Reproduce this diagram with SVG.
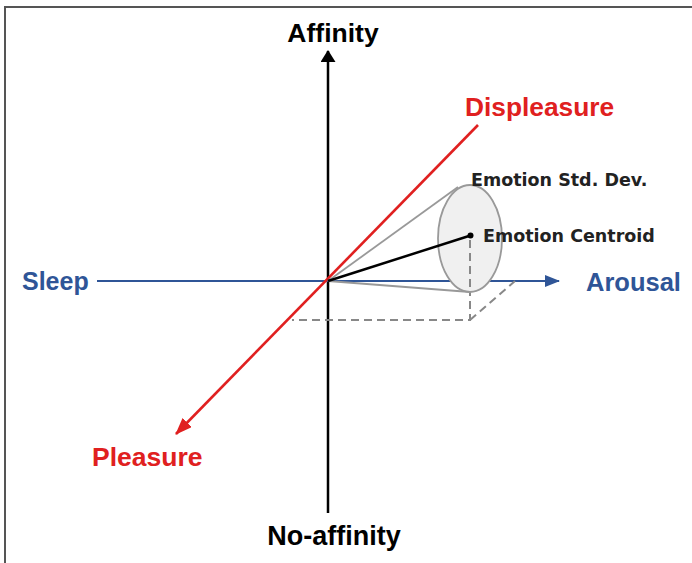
<svg xmlns="http://www.w3.org/2000/svg" width="692" height="563" viewBox="0 0 692 563">
<defs>
<style>
text{font-family:"Liberation Sans",Arial,sans-serif;font-weight:bold}
.small{font-family:"DejaVu Sans","Liberation Sans",sans-serif;font-size:17.5px;fill:#222}
.blue{fill:#2f5597}
.red{fill:#e02020}
.dash{stroke:#888;stroke-width:2;stroke-dasharray:8 5;fill:none}
</style>
<marker id="ak" viewBox="0 0 12 15" refX="11" refY="7.5" markerWidth="12" markerHeight="15" markerUnits="userSpaceOnUse" orient="auto"><path d="M0,0 L12,7.5 L0,15 z" fill="#000"/></marker>
<marker id="ab" viewBox="0 0 15 12" refX="14" refY="6" markerWidth="15" markerHeight="12" markerUnits="userSpaceOnUse" orient="auto"><path d="M0,0 L15,6 L0,12 z" fill="#2f5597"/></marker>
<marker id="ar" viewBox="0 0 17 13" refX="16" refY="6.5" markerWidth="17" markerHeight="13" markerUnits="userSpaceOnUse" orient="auto"><path d="M0,0 L17,6.5 L0,13 z" fill="#e02020"/></marker>
</defs>
<rect width="692" height="563" fill="#fff"/>
<path d="M5,563 V7 H692" fill="none" stroke="#555" stroke-width="2"/>
<g id="connectors">
<line x1="328" y1="513" x2="328" y2="51" stroke="#000" stroke-width="2.5" marker-end="url(#ak)"/>
<line x1="97" y1="281" x2="559" y2="281" stroke="#2f5597" stroke-width="2.2" marker-end="url(#ab)"/>
<line x1="478" y1="125" x2="176" y2="434" stroke="#e02020" stroke-width="2.6" marker-end="url(#ar)"/>
<path class="dash" d="M470,236 V320 H292 M470,320 L515,281"/>
</g>
<g id="cone">
<ellipse cx="470" cy="238.5" rx="32" ry="53.5" fill="#f0f0f0" stroke="#999" stroke-width="1.8"/>
<line x1="328" y1="281" x2="458" y2="187" stroke="#999" stroke-width="1.8"/>
<line x1="328" y1="281" x2="470" y2="292" stroke="#999" stroke-width="1.8"/>
<line x1="328" y1="281" x2="470.5" y2="235.5" stroke="#000" stroke-width="2.5"/>
<circle cx="470.5" cy="235.5" r="3" fill="#000"/>
<path class="dash" d="M470,240 V292"/>
</g>
<g id="affinity"><text x="333" y="42" font-size="26.5" text-anchor="middle">Affinity</text></g>
<g id="no-affinity"><text x="334" y="545" font-size="27" text-anchor="middle">No-affinity</text></g>
<g id="sleep"><text class="blue" x="22" y="290" font-size="25">Sleep</text></g>
<g id="arousal"><text class="blue" x="586" y="291" font-size="25.5">Arousal</text></g>
<g id="displeasure"><text class="red" x="465" y="116" font-size="26.3">Displeasure</text></g>
<g id="pleasure"><text class="red" x="92" y="466" font-size="26.5">Pleasure</text></g>
<g id="std-dev"><text class="small" x="471" y="186">Emotion Std. Dev.</text></g>
<g id="centroid"><text class="small" x="483" y="242">Emotion Centroid</text></g>
</svg>
